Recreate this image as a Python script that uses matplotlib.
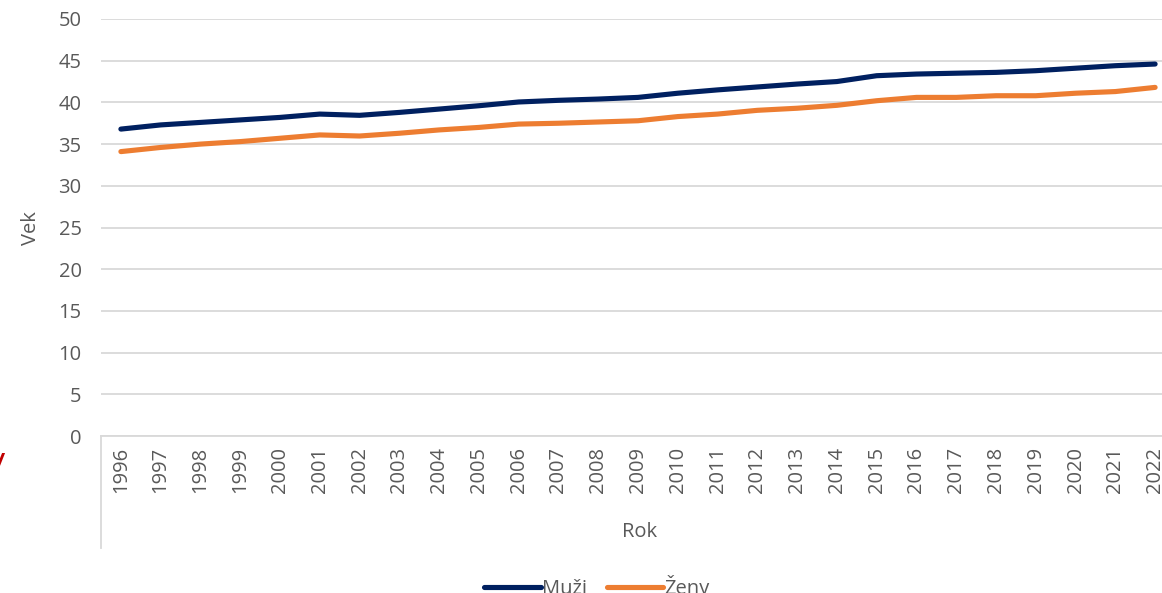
import matplotlib
matplotlib.use( "Agg" )
from matplotlib import pyplot as plt
from matplotlib.lines import Line2D

# Data
years = [ str(y) for y in range( 1996, 2023 ) ]
muzi  = [ 36.8, 37.3, 37.6, 37.9, 38.2, 38.6, 38.45, 38.8, 39.2, 39.6,
          40.05, 40.25, 40.4, 40.6, 41.1, 41.5, 41.85, 42.2, 42.5, 43.2,
          43.4, 43.5, 43.6, 43.8, 44.1, 44.4, 44.6 ]
zeny  = [ 34.1, 34.6, 35.0, 35.3, 35.7, 36.1, 35.97, 36.3, 36.7, 37.0,
          37.4, 37.5, 37.65, 37.8, 38.3, 38.6, 39.05, 39.3, 39.65, 40.2,
          40.6, 40.6, 40.8, 40.8, 41.1, 41.3, 41.8 ]
y_ticks = [ 0, 5, 10, 15, 20, 25, 30, 35, 40, 45, 50 ]

NAVY   = "#002060"
ORANGE = "#ED7D31"
GRID   = "#D9D9D9"
TEXT   = "#595959"
FS     = 14.5

plt.rcParams['font.family'] = [ 'Open Sans', 'DejaVu Sans' ]

W, H = 1162, 593
fig = plt.figure( figsize=(W/100, H/100), dpi=100 )

# axes in pixel terms (the right end runs off the picture, as in the reference)
left, right, top, bottom = 101, 1175, 19, 436
ax = fig.add_axes( [ left/W, 1 - bottom/H, (right-left)/W, (bottom-top)/H ] )

x = list( range( len(years) ) )
ax.plot( x, muzi, color=NAVY,   lw=3.7, solid_capstyle='round', label="Muži", zorder=3 )
ax.plot( x, zeny, color=ORANGE, lw=3.7, solid_capstyle='round', label="Ženy", zorder=3 )

ax.set_xlim( -0.5, len(years) - 0.5 )
ax.set_ylim( 0, 50 )
ax.set_yticks( y_ticks )
ax.set_xticks( x )
ax.set_xticklabels( years, rotation=90, va='top' )
ax.tick_params( axis='y', length=0, pad=14, labelsize=FS, labelcolor=TEXT )
ax.tick_params( axis='x', length=0, pad=8, labelsize=FS, labelcolor=TEXT )
ax.yaxis.grid( True, color=GRID, lw=1.3 )
ax.set_axisbelow( True )
for s in [ 'top', 'right', 'left' ]:
    ax.spines[s].set_visible( False )
ax.spines['bottom'].set_color( GRID )
ax.spines['bottom'].set_linewidth( 1.3 )

# vertical separator below the category axis
fig.add_artist( Line2D( [ left/W, left/W ], [ 1 - 436/H, 1 - 548/H ], color=GRID, lw=1.3 ) )

# axis titles
fig.text( 640/W, 1 - 532/H, "Rok", ha='center', va='center', fontsize=FS, color=TEXT )
fig.text( 31/W, 1 - 228/H, "Vek", ha='center', va='center', rotation=90, fontsize=FS, color=TEXT )

# red fragment at the left edge
fig.text( -4/W, 1 - 463/H, "/", ha='left', va='center', fontsize=16, color="#C00000", fontweight='bold' )

# legend (cut off at the bottom, as in the reference)
fig.legend( loc='center', bbox_to_anchor=( 597/W, 1 - 587/H ), ncol=2, frameon=False,
            fontsize=FS, labelcolor=TEXT, handlelength=2.8, handletextpad=0.05,
            columnspacing=1.0 )

fig.savefig( "out.png", dpi=100 )
